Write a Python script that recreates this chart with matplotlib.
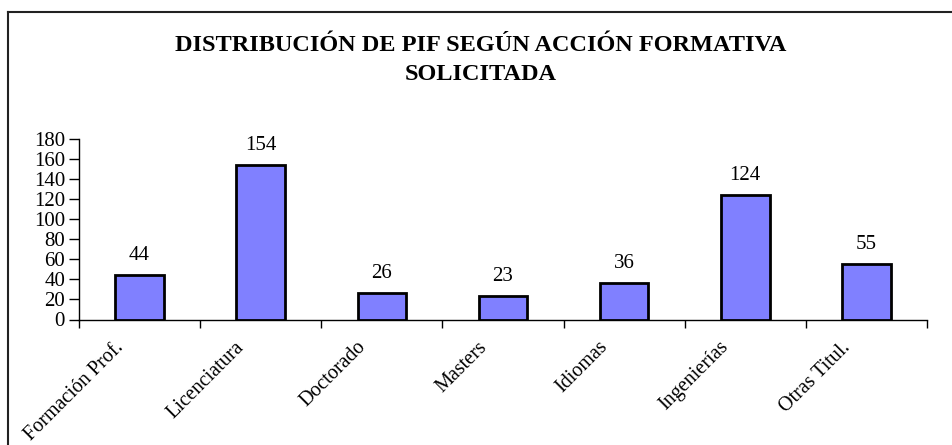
import matplotlib
matplotlib.use("Agg")
import matplotlib.pyplot as plt
import matplotlib.transforms as mtransforms
import numpy as np

categories = ["Formación Prof.", "Licenciatura", "Doctorado", "Masters",
              "Idiomas", "Ingenierías", "Otras Titul."]
values = [44, 154, 26, 23, 36, 124, 55]
yticks = [0, 20, 40, 60, 80, 100, 120, 140, 160, 180]
title = "DISTRIBUCIÓN DE PIF SEGÚN ACCIÓN FORMATIVA\nSOLICITADA"

plt.rcParams['font.family'] = ['Liberation Serif', 'DejaVu Serif']

W, H = 953, 445
fig = plt.figure(figsize=(W / 100, H / 100), dpi=100)
fig.patch.set_facecolor("white")

left, right, top, bottom = 79, 927, 139, 319.5
ax = fig.add_axes([left / W, (H - bottom) / H, (right - left) / W, (bottom - top) / H])

x = np.arange(len(categories))
bars = ax.bar(x, values, width=0.4, color="#8080FF", edgecolor="black", linewidth=2, zorder=3)

ax.set_xlim(-0.5, len(categories) - 0.5)
ax.set_ylim(0, 180)
ax.set_yticks(yticks)
ax.set_yticklabels([str(v) for v in yticks], fontsize=15)
ax.tick_params(axis="y", direction="out", length=7, width=1, pad=3)

ax.set_xticks(x)
ax.set_xticklabels(categories, fontsize=14.5, rotation=45, ha="right", va="center",
                   rotation_mode="anchor")
ax.tick_params(axis="x", which="major", length=0, pad=18)
ax.set_xticks(np.arange(-0.5, len(categories)), minor=True)
ax.tick_params(axis="x", which="minor", direction="out", length=6, width=1)
offset = mtransforms.ScaledTranslation(-19 / 100, 0, fig.dpi_scale_trans)
for lbl in ax.get_xticklabels():
    lbl.set_transform(lbl.get_transform() + offset)

for s in ["top", "right"]:
    ax.spines[s].set_visible(False)
for s in ["left", "bottom"]:
    ax.spines[s].set_linewidth(1)
ax.set_facecolor("none")

for xi, v in zip(x, values):
    ax.annotate(str(v), (xi, v), xytext=(0, 14), textcoords="offset points",
                ha="center", va="center", fontsize=15)

fig.text(481 / W, 1 - 60 / H, title, ha="center", va="center", fontsize=17.5,
         fontweight="bold", linespacing=1.55)

# chart border (left and top visible)
fig.add_artist(plt.Line2D([8.5 / W, 8.5 / W], [0, 1 - 11.5 / H], color="#222222",
                          linewidth=1.5, transform=fig.transFigure))
fig.add_artist(plt.Line2D([8.5 / W, 1], [1 - 11.5 / H, 1 - 11.5 / H], color="#222222",
                          linewidth=1.5, transform=fig.transFigure))

fig.savefig("out.png", dpi=100, facecolor="white")
